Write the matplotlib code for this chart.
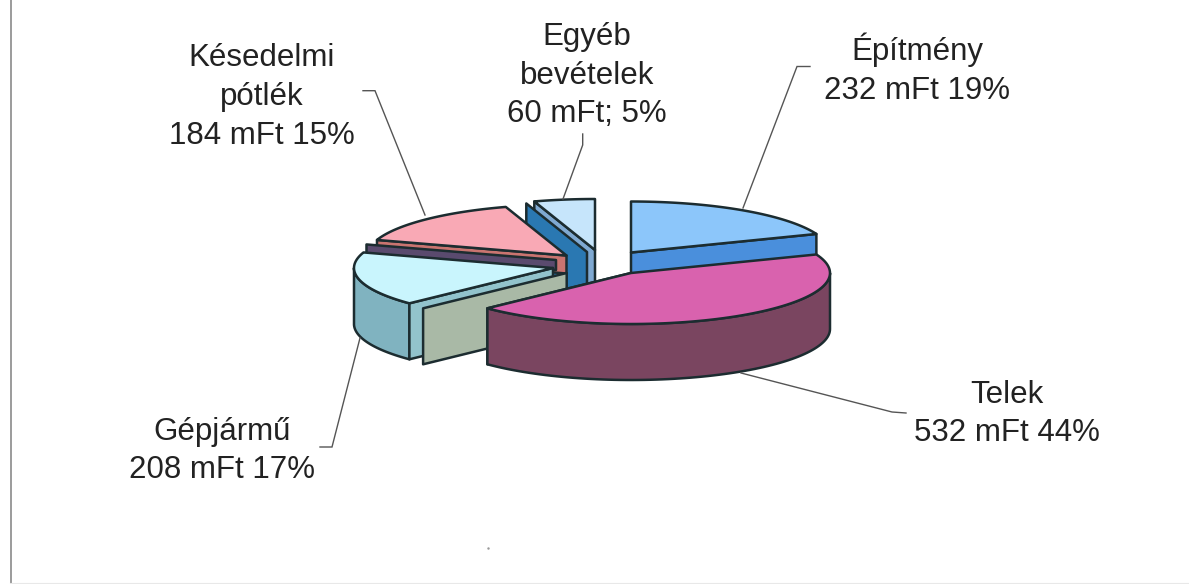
import numpy as np
import matplotlib
matplotlib.use("Agg")
import matplotlib.pyplot as plt
from matplotlib.patches import Polygon

plt.rcParams['font.family'] = ['Liberation Sans', 'DejaVu Sans']

# --- data -------------------------------------------------------------
names = ["Építmény", "Telek", "Gépjármű", "Késedelmi\npótlék", "Egyéb\nbevételek"]
values = [232, 532, 208, 184, 60]
percents = [19, 44, 17, 15, 5]
separators = [" ", " ", " ", " ", "; "]

# --- layout (pixel-like axes) ------------------------------------------
W, H = 1189, 584
A, B, DEPTH = 199, 51, 56
OUT = "#1c2c30"
cum = np.concatenate([[0], np.cumsum(values)]) / sum(values) * 2 * np.pi
ang = {i: (cum[i], cum[i + 1]) for i in range(5)}

centers = {0: (631, 252.5), 1: (631, 273), 2: (553, 268), 3: (566.5, 255.5), 4: (595, 250)}

label_pos = [(917, 69), (1007, 414), (222, 451), (262, 97), (587, 75.5)]
leaders = [
    [(810, 66.5), (797, 66.5), (743, 208)],
    [(906, 413), (892, 412), (741, 373)],
    [(320, 447), (332, 447), (360, 338)],
    [(363, 90.7), (375, 90.7), (425, 215)],
    [(582.7, 134), (582.7, 145), (563, 199)],
]

fig = plt.figure(figsize=(W / 100, H / 100), dpi=100, facecolor="white")
ax = fig.add_axes([0, 0, 1, 1])
ax.set_xlim(0, W)
ax.set_ylim(H, 0)
ax.axis("off")


def pt(c, t):
    return c[0] + A * np.sin(t), c[1] - B * np.cos(t)


def arc(c, t0, t1, n=80):
    t = np.linspace(t0, t1, n)
    return np.column_stack([c[0] + A * np.sin(t), c[1] - B * np.cos(t)])


def add(points, fc, z):
    ax.add_patch(Polygon(points, closed=True, fc=fc, ec=OUT, lw=1.8, joinstyle="round", zorder=z))


def top(i, fc, z):
    c = centers[i]
    add(np.vstack([[c], arc(c, *ang[i])]), fc, z)


def radial(c, t, depth, fc, z):
    x, y = pt(c, t)
    add([c, (x, y), (x, y + depth), (c[0], c[1] + depth)], fc, z)


def rim(c, t0, t1, depth, fc, z):
    a = arc(c, t0, t1)
    add(np.vstack([a, (a + [0, depth])[::-1]]), fc, z)


# Egyéb bevételek
radial(centers[4], ang[4][0], DEPTH, "#7fa9d2", 1)
radial((587, 252), ang[4][0], DEPTH, "#2a78b2", 2)
top(4, "#c6e5fb", 3)

# Építmény
radial(centers[0], ang[0][1], DEPTH, "#4a8fdc", 1)
top(0, "#8cc6fa", 3)

# Késedelmi pótlék
radial(centers[3], ang[3][0], 18, "#c97470", 4)
top(3, "#f9a9b5", 5)

# Gépjármű
radial((556, 260), ang[2][1], 10, "#5a4a6e", 6)
rim(centers[2], ang[2][0], 3 * np.pi / 2, DEPTH, "#80b3c0", 7)
radial(centers[2], ang[2][0], DEPTH, "#92c3cc", 8)
radial((566.7, 273), ang[2][0], DEPTH, "#a9b9a6", 9)
top(2, "#c9f5fd", 10)

# Telek
radial(centers[1], ang[1][1], DEPTH, "#7a4560", 11)
rim(centers[1], np.pi / 2, ang[1][1], DEPTH, "#7a4560", 12)
top(1, "#d962ae", 13)

# Leaders and labels
for seg in leaders:
    xs, ys = zip(*seg)
    ax.plot(xs, ys, color="#555555", lw=1.0, zorder=20, solid_joinstyle="miter")

for name, v, p, sep, (x, y) in zip(names, values, percents, separators, label_pos):
    ax.text(x, y, f"{name}\n{v} mFt{sep}{p}%", ha="center", va="center", fontsize=22.5,
            color="#222222", linespacing=1.38, zorder=21)

# Scanned frame: left edge and faint bottom edge
ax.plot([10.5, 10.5], [0, H], color="#8a8a8a", lw=1.2, zorder=0)
ax.plot([10, W], [583.3, 583.3], color="#e8e8e8", lw=0.8, zorder=0)
ax.plot([488], [548], marker=".", ms=1.5, color="#999999", zorder=0)

fig.savefig("out.png", dpi=100, facecolor="white")
